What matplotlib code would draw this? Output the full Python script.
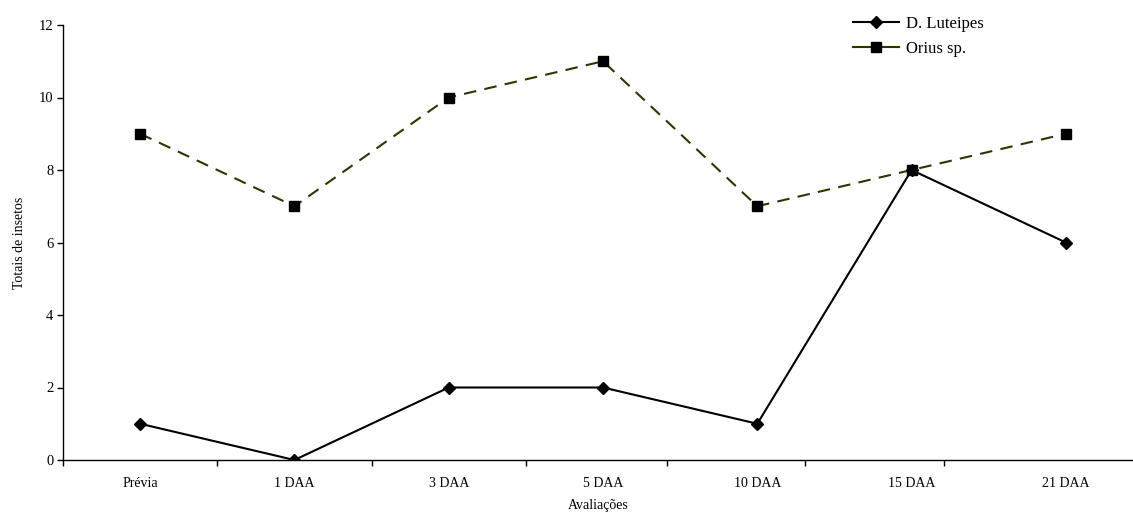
import matplotlib
matplotlib.use("Agg")
import matplotlib.pyplot as plt
from matplotlib.lines import Line2D

categories = ["Prévia", "1 DAA", "3 DAA", "5 DAA", "10 DAA", "15 DAA", "21 DAA"]
luteipes = [1, 0, 2, 2, 1, 8, 6]
orius = [9, 7, 10, 11, 7, 8, 9]
yticks = [0, 2, 4, 6, 8, 10, 12]
boundary_ticks = [-0.5, 0.5, 1.5, 2.5, 3.415, 4.31, 5.21]

plt.rcParams['font.family'] = ['Liberation Serif', 'DejaVu Serif']

fig = plt.figure(figsize=(11.33, 5.12), dpi=100)
ax = fig.add_axes([63/1133, 52/512, 1 - 63/1133, 435/512])

x = list(range(len(categories)))
ax.plot(x, orius, color='#333300', linestyle=(0, (6, 4)), linewidth=1.5,
        marker='s', markersize=7, markerfacecolor='black', markeredgecolor='black',
        label='Orius sp.')
ax.plot(x, luteipes, color='black', linestyle='-', linewidth=1.5,
        marker='D', markersize=6, markerfacecolor='black', markeredgecolor='black',
        label='D. Luteipes')

ax.set_xlim(-0.5, 6.435)
ax.set_ylim(0, 12)
ax.set_yticks(yticks)
ax.set_xticks(x)
ax.set_xticklabels(categories, fontsize=10)
ax.tick_params(axis='x', which='major', length=0, pad=12)
ax.set_xticks(boundary_ticks, minor=True)
ax.tick_params(axis='x', which='minor', length=4, width=1, direction='out')
ax.tick_params(axis='y', length=4, width=1, direction='out', labelsize=10.5, pad=3)

for s in ['top', 'right']:
    ax.spines[s].set_visible(False)
for s in ['left', 'bottom']:
    ax.spines[s].set_linewidth(1)

ax.set_ylabel("Totais de insetos", fontsize=10, labelpad=9)
ax.set_xlabel("Avaliações", fontsize=10, labelpad=7)

handles = [
    Line2D([], [], color='black', linestyle='-', linewidth=1.5, marker='D',
           markersize=6, markerfacecolor='black', markeredgecolor='black'),
    Line2D([], [], color='#333300', linestyle='-', linewidth=1.5, marker='s',
           markersize=7, markerfacecolor='black', markeredgecolor='black'),
]
fig.legend(handles, ['D. Luteipes', 'Orius sp.'], loc='upper left',
           bbox_to_anchor=(838/1133, 1 - 1/512), frameon=False, fontsize=12,
           handlelength=2.75, handletextpad=0.4, labelspacing=0.55)

fig.savefig("out.png", dpi=100)
